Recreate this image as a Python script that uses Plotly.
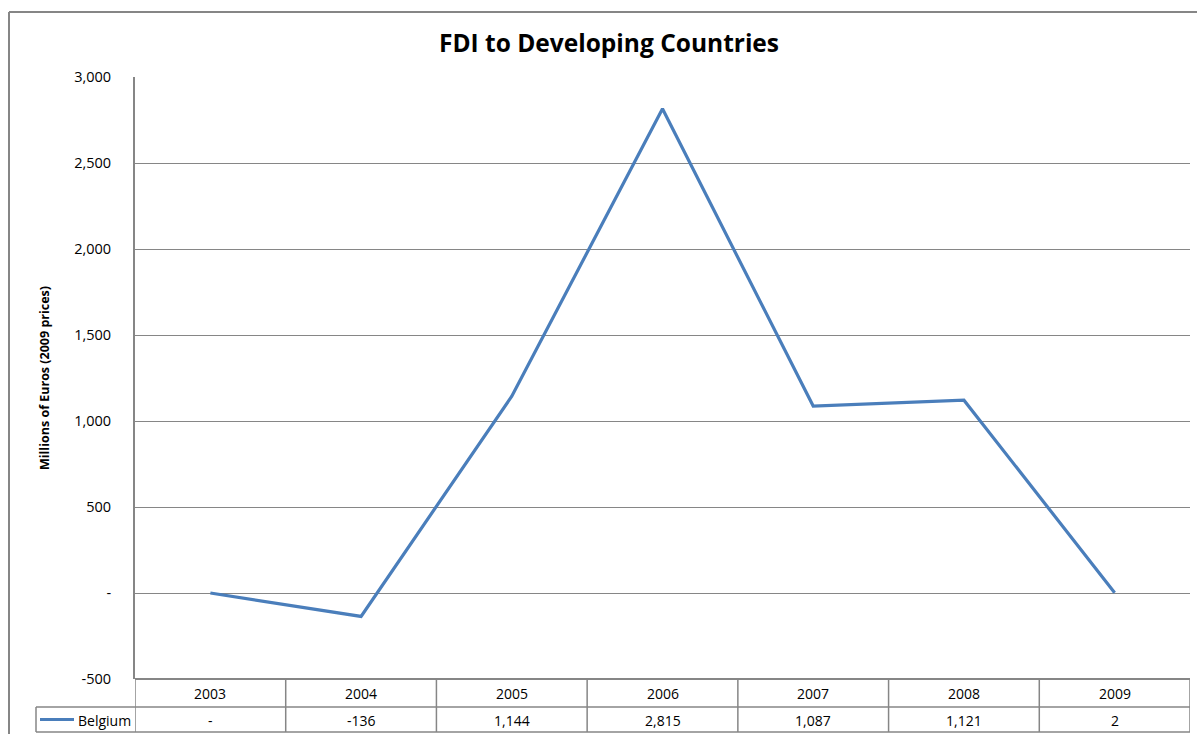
import plotly.graph_objects as go

years = ["2003", "2004", "2005", "2006", "2007", "2008", "2009"]
belgium = [0, -136, 1144, 2815, 1087, 1121, 2]
table_labels = ["-", "-136", "1,144", "2,815", "1,087", "1,121", "2"]
series_name = "Belgium"
tick_vals = [-500, 0, 500, 1000, 1500, 2000, 2500, 3000]
tick_text = ["-500", "-", "500", "1,000", "1,500", "2,000", "2,500", "3,000"]

# the page body margin is removed by post_script, so figure fills the window
OFF = 0
W, H = 1197, 734
RIGHT = 1190


def px(p):  # page pixel x -> paper x
    return min(max((p - OFF) / W, 0.0), 1.0)


def py(p):  # page pixel y -> paper y
    return min(max(1 - (p - OFF) / H, 0.0), 1.0)


LINE = "#4a7ebb"
GRID = "#868686"
FONT = "Open Sans"

idx = list(range(len(years)))
fig = go.Figure()
fig.add_trace(go.Scatter(x=idx, y=belgium, mode="lines",
                         line=dict(color=LINE, width=3.2), name=series_name,
                         showlegend=False, hoverinfo="skip"))

fig.update_layout(
    width=W, height=H, margin=dict(l=0, r=0, t=0, b=0, autoexpand=False),
    paper_bgcolor="white", plot_bgcolor="white",
    font=dict(family=FONT, size=12, color="#000"),
    title=dict(text="<b>FDI to Developing Countries</b>", x=px(609), xanchor="center",
               y=py(43), yanchor="middle", font=dict(family=FONT, size=24.5, color="#000")),
    xaxis=dict(domain=[px(135), px(RIGHT)], range=[-0.5, len(years) - 0.5],
               showgrid=False, showticklabels=False, zeroline=False, showline=False,
               fixedrange=True, automargin=False),
    yaxis=dict(domain=[py(679), py(77)], range=[-500, 3000], tickvals=tick_vals,
               ticktext=tick_text, showgrid=True, gridcolor=GRID, gridwidth=1,
               zeroline=False, showline=True, linecolor=GRID, linewidth=2,
               ticks="", ticklabelstandoff=19, automargin=False, fixedrange=True,
               tickfont=dict(family=FONT, size=14.5, color="#000"),
               title=dict(text="<b>Millions of Euros (2009 prices)</b>", standoff=22,
                          font=dict(family=FONT, size=12.5, color="#000"))),
    showlegend=False,
)

shapes = []
# outer chart border (left and top visible)
shapes.append(dict(type="line", xref="paper", yref="paper", x0=px(9), x1=1.0,
                   y0=py(12), y1=py(12), line=dict(color=GRID, width=2)))
shapes.append(dict(type="line", xref="paper", yref="paper", x0=px(9), x1=px(9),
                   y0=py(12), y1=0, line=dict(color=GRID, width=2)))
# table horizontal lines
shapes.append(dict(type="line", xref="paper", yref="paper", x0=px(135), x1=px(RIGHT),
                   y0=py(679), y1=py(679), line=dict(color=GRID, width=2)))
for yy in (707, 732):
    shapes.append(dict(type="line", xref="paper", yref="paper", x0=px(36), x1=px(RIGHT),
                       y0=py(yy), y1=py(yy), line=dict(color=GRID, width=1.5)))
# legend key cell left border
shapes.append(dict(type="line", xref="paper", yref="paper", x0=px(36), x1=px(36),
                   y0=py(707), y1=py(732), line=dict(color=GRID, width=1.5)))
# column dividers on category scale
for i in range(len(years) + 1):
    shapes.append(dict(type="line", xref="x", yref="paper", x0=i - 0.5, x1=i - 0.5,
                       y0=py(679), y1=py(732), line=dict(color=GRID, width=1.5)))
# legend key line
shapes.append(dict(type="line", xref="paper", yref="paper", x0=px(40), x1=px(74),
                   y0=py(719.5), y1=py(719.5), line=dict(color=LINE, width=3)))
fig.update_layout(shapes=shapes)

ann = []
for i, (yr, lab) in enumerate(zip(years, table_labels)):
    ann.append(dict(x=i, xref="x", xanchor="center", y=py(693), yref="paper",
                    yanchor="middle", text=yr, showarrow=False,
                    font=dict(family=FONT, size=14)))
    ann.append(dict(x=i, xref="x", xanchor="center", y=py(720), yref="paper",
                    yanchor="middle", text=lab, showarrow=False,
                    font=dict(family=FONT, size=14)))
ann.append(dict(x=px(76), xref="paper", xanchor="left", y=py(720), yref="paper",
                yanchor="middle", text=series_name, showarrow=False,
                font=dict(family=FONT, size=14)))
fig.update_layout(annotations=ann)

fig.write_html(
    "out.html",
    config={"displayModeBar": False},
    post_script="document.body.style.margin='0';document.body.style.overflow='hidden';",
)
